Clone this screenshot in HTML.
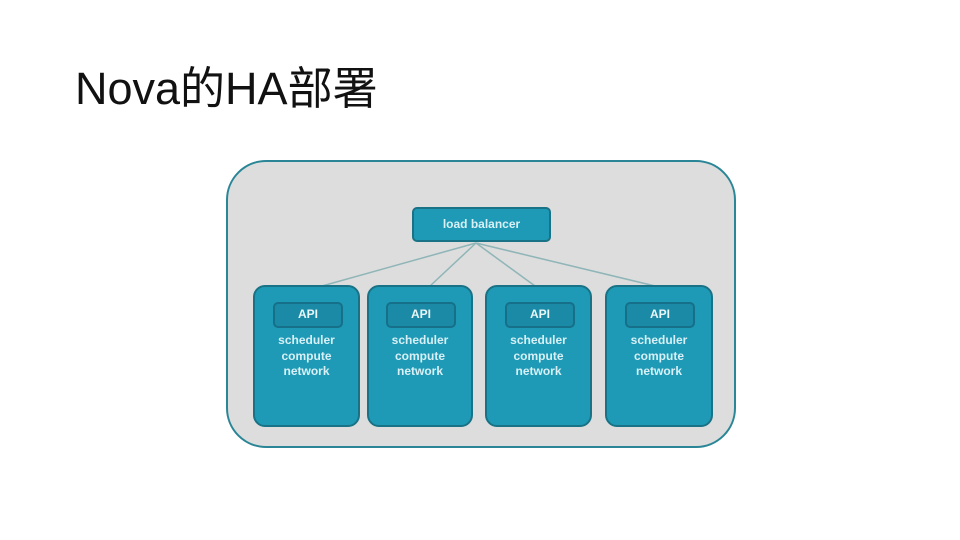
<!DOCTYPE html>
<html><head><meta charset="utf-8"><style>
body{margin:0;width:960px;height:540px;background:#fff;position:relative;overflow:hidden;font-family:"Liberation Sans","Noto Sans CJK SC",sans-serif}
.t{position:absolute;left:75px;top:52px;font-size:45px;color:#111}
.o{position:absolute;left:226px;top:160px;width:506px;height:284px;background:#dcdddc;border:2px solid #2a8696;border-radius:40px}
.b{position:absolute;background:#1e9ab6;border:2px solid #1a7286;border-radius:12px;box-sizing:border-box;color:#d8f0f5;text-align:center;font-size:12px;font-weight:bold}
.a{position:absolute;background:#1a8aa6;border:2px solid #17708a;border-radius:5px;box-sizing:border-box;color:#e8f6f8;font-size:12px;line-height:21px;text-align:center}
.x{position:absolute;left:0;right:0;top:46px;line-height:15.5px}
</style></head><body>
<div class="t">Nova的HA部署</div>
<div class="o"></div>
<svg style="position:absolute;left:0;top:0" width="960" height="540"><g stroke="#8fb5b8" stroke-width="1.5"><line x1="476" y1="243" x2="322" y2="286"/><line x1="476" y1="243" x2="430" y2="286"/><line x1="476" y1="243" x2="535" y2="286"/><line x1="476" y1="243" x2="655" y2="286"/></g></svg>
<div class="b" style="left:412px;top:207px;width:139px;height:35px;line-height:31px;border-radius:5px">load balancer</div>
<div class="b" style="left:253px;top:285px;width:107px;height:142px"><div class="a" style="left:18px;top:15px;width:70px;height:26px">API</div><div class="x">scheduler<br>compute<br>network</div></div>
<div class="b" style="left:367px;top:285px;width:106px;height:142px"><div class="a" style="left:17px;top:15px;width:70px;height:26px">API</div><div class="x">scheduler<br>compute<br>network</div></div>
<div class="b" style="left:485px;top:285px;width:107px;height:142px"><div class="a" style="left:18px;top:15px;width:70px;height:26px">API</div><div class="x">scheduler<br>compute<br>network</div></div>
<div class="b" style="left:605px;top:285px;width:108px;height:142px"><div class="a" style="left:18px;top:15px;width:70px;height:26px">API</div><div class="x">scheduler<br>compute<br>network</div></div>
</body></html>
